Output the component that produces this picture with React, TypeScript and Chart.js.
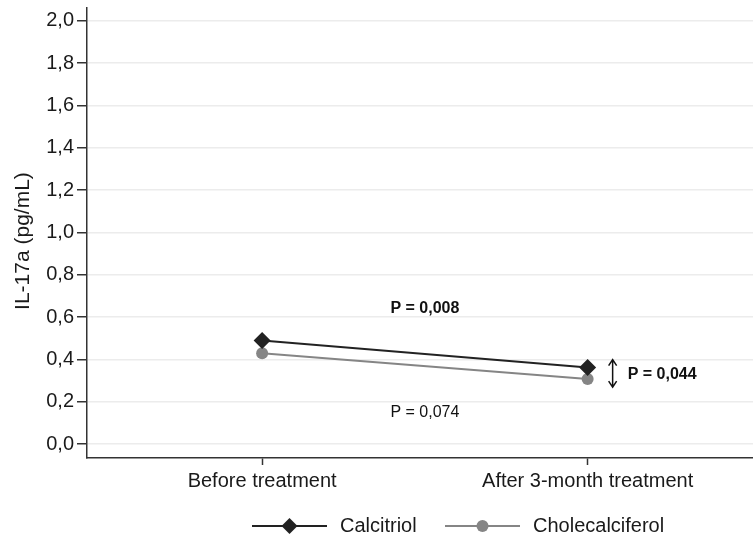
import React, { useEffect, useRef } from "react";
import { Chart, registerables } from "chart.js";

Chart.register(...registerables);

const categories = ["Before treatment", "After 3-month treatment"];
const calcitriol = [0.49, 0.363];
const cholecalciferol = [0.43, 0.308];
const yTicks = [0, 0.2, 0.4, 0.6, 0.8, 1.0, 1.2, 1.4, 1.6, 1.8, 2.0];
const seriesNames = ["Calcitriol", "Cholecalciferol"];
const yTitle = "IL-17a (pg/mL)";
const pTop = "P = 0,008";
const pBottom = "P = 0,074";
const pRight = "P = 0,044";

const FONT = "'Liberation Sans', Arial, Helvetica, sans-serif";
const DARK = "#222222";
const GRAY = "#858585";

export default function App() {
  const ref = useRef<HTMLCanvasElement>(null);
  useEffect(() => {
    if (!ref.current) return;
    const overlay = {
      id: "overlay",
      afterDraw(chart: any) {
        const ctx = chart.ctx as CanvasRenderingContext2D;
        const xs = chart.scales.x;
        const ys = chart.scales.y;
        ctx.save();
        // y title
        ctx.fillStyle = "#1a1a1a";
        ctx.font = `21px ${FONT}`;
        ctx.textAlign = "center";
        ctx.textBaseline = "middle";
        ctx.translate(23, ys.getPixelForValue(0.96));
        ctx.rotate(-Math.PI / 2);
        ctx.fillText(yTitle, 0, 0);
        ctx.restore();

        ctx.save();
        ctx.fillStyle = "#111";
        ctx.textBaseline = "middle";
        ctx.textAlign = "center";
        const midX = (xs.getPixelForValue(0) + xs.getPixelForValue(1)) / 2;
        ctx.font = `bold 16px ${FONT}`;
        ctx.fillText(pTop, midX, ys.getPixelForValue(0.64));
        ctx.font = `16px ${FONT}`;
        ctx.fillText(pBottom, midX, ys.getPixelForValue(0.149));
        // double arrow
        const ax = xs.getPixelForValue(1) + 25;
        const y1 = ys.getPixelForValue(0.4);
        const y2 = ys.getPixelForValue(0.27);
        ctx.strokeStyle = "#111";
        ctx.lineWidth = 1.5;
        ctx.beginPath();
        ctx.moveTo(ax, y1);
        ctx.lineTo(ax, y2);
        ctx.moveTo(ax - 4, y1 + 6);
        ctx.lineTo(ax, y1);
        ctx.lineTo(ax + 4, y1 + 6);
        ctx.moveTo(ax - 4, y2 - 6);
        ctx.lineTo(ax, y2);
        ctx.lineTo(ax + 4, y2 - 6);
        ctx.stroke();
        ctx.textAlign = "left";
        ctx.font = `bold 16px ${FONT}`;
        ctx.fillText(pRight, ax + 15, ys.getPixelForValue(0.331));

        // legend
        const ly = 526;
        const items = [
          { x: 252, color: DARK, style: "diamond" },
          { x: 445, color: GRAY, style: "circle" },
        ];
        ctx.font = `20px ${FONT}`;
        items.forEach((it, i) => {
          ctx.strokeStyle = it.color;
          ctx.lineWidth = 2;
          ctx.beginPath();
          ctx.moveTo(it.x, ly);
          ctx.lineTo(it.x + 75, ly);
          ctx.stroke();
          ctx.fillStyle = it.color;
          const cx = it.x + 37.5;
          ctx.beginPath();
          if (it.style === "diamond") {
            ctx.moveTo(cx, ly - 8);
            ctx.lineTo(cx + 8, ly);
            ctx.lineTo(cx, ly + 8);
            ctx.lineTo(cx - 8, ly);
            ctx.closePath();
          } else {
            ctx.arc(cx, ly, 6, 0, Math.PI * 2);
          }
          ctx.fill();
          ctx.fillStyle = "#1a1a1a";
          ctx.textAlign = "left";
          ctx.fillText(seriesNames[i], it.x + 88, ly);
        });
        ctx.restore();
      },
    };

    const zeroPad = (s: any) => {
      s.paddingTop = 0;
      s.paddingBottom = 0;
      s.paddingLeft = 0;
      s.paddingRight = 0;
    };

    const chart = new Chart(ref.current, {
      type: "line",
      data: {
        datasets: [
          {
            label: seriesNames[0],
            data: calcitriol.map((v, i) => ({ x: i, y: v })),
            borderColor: DARK,
            backgroundColor: DARK,
            borderWidth: 2,
            pointStyle: "rectRot",
            pointRadius: 8.5,
            pointBorderWidth: 0,
          },
          {
            label: seriesNames[1],
            data: cholecalciferol.map((v, i) => ({ x: i, y: v })),
            borderColor: GRAY,
            backgroundColor: GRAY,
            borderWidth: 2,
            pointStyle: "circle",
            pointRadius: 6,
            pointBorderWidth: 0,
          },
        ],
      },
      options: {
        animation: false,
        responsive: false,
        events: [],
        layout: { autoPadding: false, padding: { top: 8, left: 0, right: 0, bottom: 0 } },
        plugins: { legend: { display: false }, tooltip: { enabled: false } },
        scales: {
          x: {
            type: "linear",
            min: -0.538,
            max: 1.508,
            afterBuildTicks: (s: any) => {
              s.ticks = categories.map((_, i) => ({ value: i }));
            },
            afterFit: (s: any) => {
              s.height = 537 - 458;
              zeroPad(s);
            },
            ticks: {
              callback: (v: any) => categories[v as number] ?? "",
              color: "#1a1a1a",
              font: { family: FONT, size: 20 },
              padding: 4,
              maxRotation: 0,
              autoSkip: false,
            },
            grid: {
              drawOnChartArea: false,
              drawTicks: true,
              tickLength: 7,
              tickColor: "#333",
              tickWidth: 1.5,
            },
            border: { display: true, color: "#333", width: 1.5 },
          },
          y: {
            type: "linear",
            min: -0.065,
            max: 2.061,
            afterBuildTicks: (s: any) => {
              s.ticks = yTicks.map((v) => ({ value: v }));
            },
            afterFit: (s: any) => {
              s.width = 87;
              zeroPad(s);
            },
            ticks: {
              callback: (v: any) => Number(v).toFixed(1).replace(".", ","),
              color: "#1a1a1a",
              font: { family: FONT, size: 20 },
              padding: 3,
            },
            grid: {
              color: "#ececec",
              lineWidth: 1.5,
              drawTicks: true,
              tickLength: 10,
              tickColor: "#333",
              tickWidth: 1.5,
            },
            border: { display: true, color: "#333", width: 1.5 },
          },
        },
      },
      plugins: [overlay],
    });
    return () => chart.destroy();
  }, []);
  return (
    <div style={{ position: "fixed", left: 0, top: 0, width: 753, height: 537, background: "#fff" }}>
      <canvas ref={ref} width={753} height={537} style={{ width: 753, height: 537 }} />
    </div>
  );
}
